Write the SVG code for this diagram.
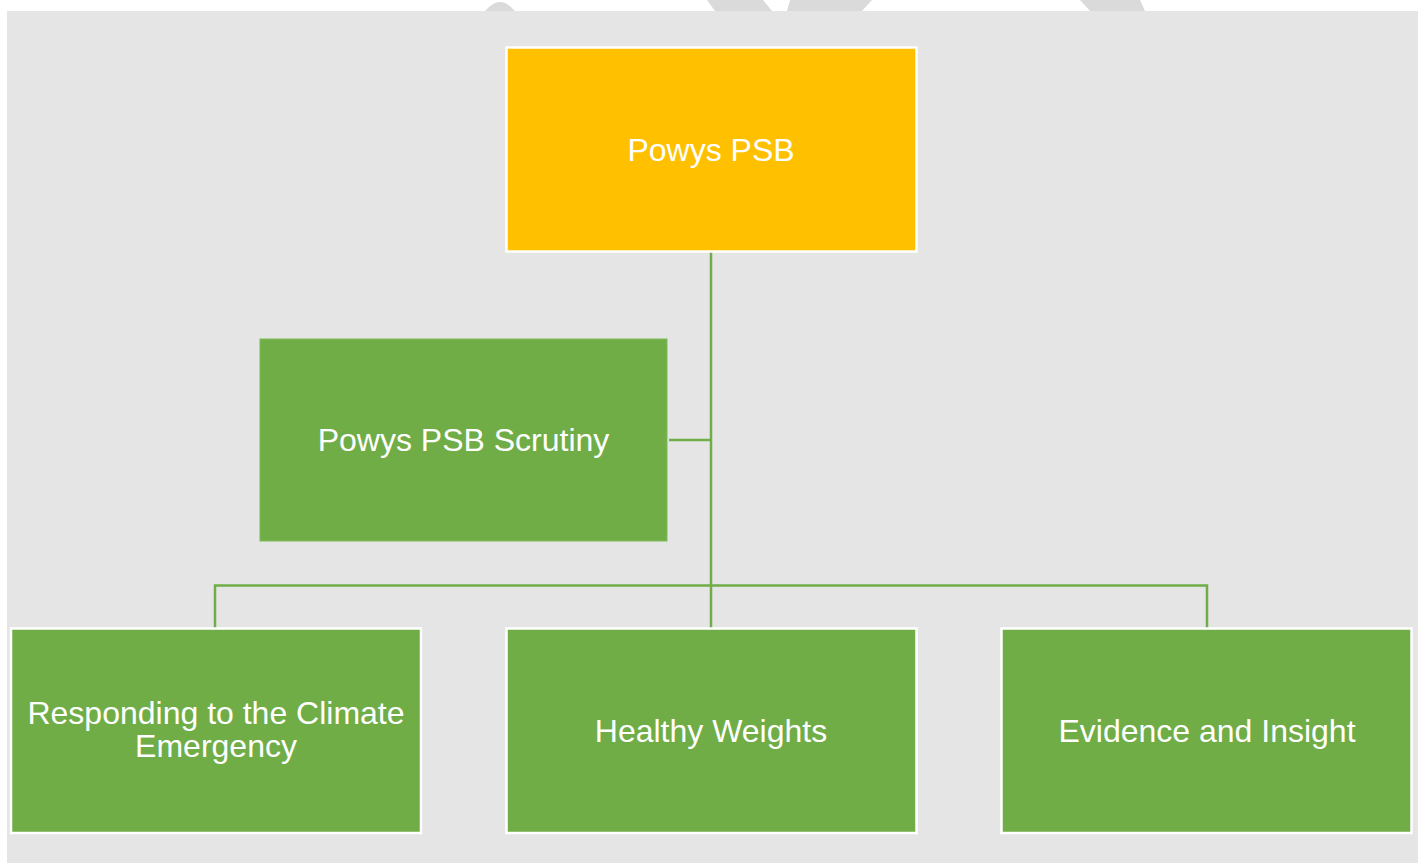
<svg xmlns="http://www.w3.org/2000/svg" width="1418" height="863" viewBox="0 0 1418 863">
<style>
.bg{fill:#e5e5e5}
.wm{fill:#dadada}
.box{stroke:#ffffff;stroke-width:2.5}
.yellow{fill:#ffc000}
.green{fill:#70ad47}
.conn{fill:none;stroke:#70ad47;stroke-width:2.5}
.lbl{font-family:"Liberation Sans",Arial,sans-serif;font-size:32px;fill:#ffffff;text-anchor:middle}
</style>
<rect x="0" y="0" width="1418" height="863" fill="#ffffff"/>
<g id="watermark">
<path class="wm" d="M485,11 Q493,2 500,2 Q507,2 515,11 Z"/>
<polygon class="wm" points="707,0 763,0 772,11 715,11"/>
<polygon class="wm" points="790,0 872,0 862,11 787,11"/>
<polygon class="wm" points="1080,0 1140,0 1145,11 1090,11"/>
</g>
<rect class="bg" x="7" y="11" width="1411" height="852"/>
<g id="connectors">
<path class="conn" d="M711,252 V628"/>
<path class="conn" d="M669,440 H711"/>
<path class="conn" d="M215,628 V585.5 H1207 V628"/>
</g>
<g id="node-psb">
<rect class="box yellow" x="506.5" y="47.5" width="410" height="204"/>
<text class="lbl" x="711" y="161">Powys PSB</text>
</g>
<g id="node-scrutiny">
<rect class="green" x="260" y="339" width="407" height="202" stroke="#7dbb55" stroke-width="1"/>
<text class="lbl" x="463.5" y="451">Powys PSB Scrutiny</text>
</g>
<g id="node-climate">
<rect class="box green" x="11" y="628.5" width="410" height="204.5"/>
<text class="lbl" x="216" y="724">Responding to the Climate</text>
<text class="lbl" x="216" y="757">Emergency</text>
</g>
<g id="node-healthy">
<rect class="box green" x="506.5" y="628.5" width="410" height="204.5"/>
<text class="lbl" x="711" y="742">Healthy Weights</text>
</g>
<g id="node-evidence">
<rect class="box green" x="1001.5" y="628.5" width="410" height="204.5"/>
<text class="lbl" x="1207" y="742">Evidence and Insight</text>
</g>
</svg>
